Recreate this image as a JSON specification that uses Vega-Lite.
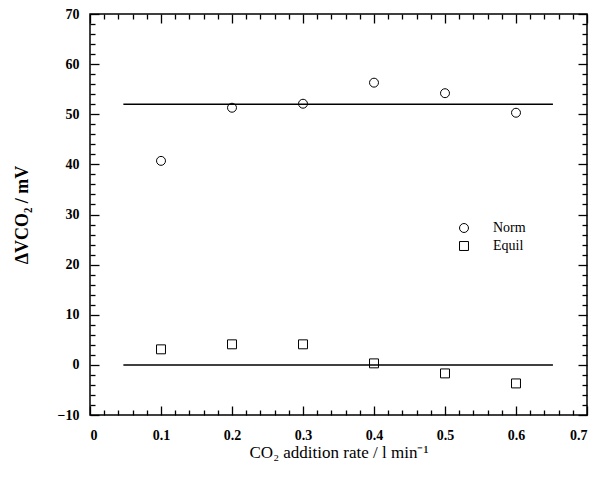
{
  "$schema": "https://vega.github.io/schema/vega-lite/v6.json",
  "width": 497,
  "height": 401,
  "padding": {"left": 13, "top": 7, "right": 5, "bottom": 5},
  "config": {
    "font": "Liberation Serif",
    "view": {"stroke": "black", "strokeWidth": 1.5},
    "axis": {
      "grid": false,
      "domain": false,
      "tickColor": "black",
      "tickWidth": 1.3,
      "labelColor": "black",
      "labelFont": "Liberation Serif",
      "labelFontSize": 14,
      "labelFontWeight": "bold",
      "titleFont": "Liberation Serif",
      "titleFontSize": 17,
      "titleFontWeight": "normal",
      "titleColor": "black"
    },
    "legend": {
      "labelFont": "Liberation Serif",
      "labelFontSize": 14,
      "labelColor": "black"
    }
  },
  "datasets": {
    "norm": [
      {"rate": 0.1, "dv": 40.7, "series": "Norm"},
      {"rate": 0.2, "dv": 51.3, "series": "Norm"},
      {"rate": 0.3, "dv": 52.1, "series": "Norm"},
      {"rate": 0.4, "dv": 56.3, "series": "Norm"},
      {"rate": 0.5, "dv": 54.2, "series": "Norm"},
      {"rate": 0.6, "dv": 50.3, "series": "Norm"}
    ],
    "equil": [
      {"rate": 0.1, "dv": 3.1, "series": "Equil"},
      {"rate": 0.2, "dv": 4.1, "series": "Equil"},
      {"rate": 0.3, "dv": 4.1, "series": "Equil"},
      {"rate": 0.4, "dv": 0.3, "series": "Equil"},
      {"rate": 0.5, "dv": -1.7, "series": "Equil"},
      {"rate": 0.6, "dv": -3.7, "series": "Equil"}
    ],
    "fitnorm": [
      {"rate": 0.047, "dv": 52.0},
      {"rate": 0.652, "dv": 52.0}
    ],
    "fitequil": [
      {"rate": 0.047, "dv": 0.0},
      {"rate": 0.652, "dv": 0.0}
    ]
  },
  "resolve": {"axis": {"x": "independent", "y": "independent"}},
  "layer": [
    {
      "data": {"name": "norm"},
      "mark": {"type": "point", "filled": false, "stroke": "black", "strokeWidth": 1, "size": 80, "opacity": 1},
      "encoding": {
        "x": {
          "field": "rate", "type": "quantitative",
          "scale": {"domain": [0, 0.7], "nice": false},
          "axis": {"orient": "bottom", "values": [0, 0.1, 0.2, 0.3, 0.4, 0.5, 0.6, 0.7], "format": ".1~f", "tickSize": -9, "labelPadding": 22, "title": "CO₂ addition rate / l min⁻¹", "titlePadding": 2}
        },
        "y": {
          "field": "dv", "type": "quantitative",
          "scale": {"domain": [-10, 70], "nice": false},
          "axis": {"orient": "left", "values": [-10, 0, 10, 20, 30, 40, 50, 60, 70], "tickSize": -9, "labelPadding": 20, "title": "ΔVCO₂ / mV", "titleFontWeight": "bold", "titleFontSize": 18, "titlePadding": 26}
        },
        "shape": {
          "field": "series", "type": "nominal",
          "scale": {"domain": ["Norm", "Equil"], "range": ["circle", "square"]},
          "legend": {"orient": "none", "legendX": 367, "legendY": 207, "title": null, "padding": 0, "symbolSize": 80, "symbolStrokeColor": "black", "symbolStrokeWidth": 1, "symbolFillColor": "transparent", "labelOffset": 22, "rowPadding": 4}
        }
      }
    },
    {
      "data": {"name": "equil"},
      "mark": {"type": "point", "filled": false, "stroke": "black", "strokeWidth": 1, "size": 80, "opacity": 1},
      "encoding": {
        "x": {
          "field": "rate", "type": "quantitative",
          "scale": {"domain": [0, 0.7], "nice": false},
          "axis": {"orient": "top", "values": [0, 0.1, 0.2, 0.3, 0.4, 0.5, 0.6, 0.7], "tickSize": -9, "labels": false, "title": null}
        },
        "y": {
          "field": "dv", "type": "quantitative",
          "scale": {"domain": [-10, 70], "nice": false},
          "axis": {"orient": "right", "values": [-10, 0, 10, 20, 30, 40, 50, 60, 70], "tickSize": -9, "labels": false, "title": null}
        },
        "shape": {"field": "series", "type": "nominal"}
      }
    },
    {
      "data": {"name": "fitnorm"},
      "mark": {"type": "line", "color": "black", "strokeWidth": 1.5},
      "encoding": {
        "x": {
          "field": "rate", "type": "quantitative",
          "scale": {"domain": [0, 0.7], "nice": false},
          "axis": {"orient": "bottom", "values": [0.02, 0.04, 0.06, 0.08, 0.12, 0.14, 0.16, 0.18, 0.22, 0.24, 0.26, 0.28, 0.32, 0.34, 0.36, 0.38, 0.42, 0.44, 0.46, 0.48, 0.52, 0.54, 0.56, 0.58, 0.62, 0.64, 0.66, 0.68], "tickSize": -5, "labels": false, "title": null}
        },
        "y": {
          "field": "dv", "type": "quantitative",
          "scale": {"domain": [-10, 70], "nice": false},
          "axis": {"orient": "left", "values": [-8, -6, -4, -2, 2, 4, 6, 8, 12, 14, 16, 18, 22, 24, 26, 28, 32, 34, 36, 38, 42, 44, 46, 48, 52, 54, 56, 58, 62, 64, 66, 68], "tickSize": -5, "labels": false, "title": null}
        }
      }
    },
    {
      "data": {"name": "fitequil"},
      "mark": {"type": "line", "color": "black", "strokeWidth": 1.5},
      "encoding": {
        "x": {
          "field": "rate", "type": "quantitative",
          "scale": {"domain": [0, 0.7], "nice": false},
          "axis": {"orient": "top", "values": [0.02, 0.04, 0.06, 0.08, 0.12, 0.14, 0.16, 0.18, 0.22, 0.24, 0.26, 0.28, 0.32, 0.34, 0.36, 0.38, 0.42, 0.44, 0.46, 0.48, 0.52, 0.54, 0.56, 0.58, 0.62, 0.64, 0.66, 0.68], "tickSize": -5, "labels": false, "title": null}
        },
        "y": {
          "field": "dv", "type": "quantitative",
          "scale": {"domain": [-10, 70], "nice": false},
          "axis": {"orient": "right", "values": [-8, -6, -4, -2, 2, 4, 6, 8, 12, 14, 16, 18, 22, 24, 26, 28, 32, 34, 36, 38, 42, 44, 46, 48, 52, 54, 56, 58, 62, 64, 66, 68], "tickSize": -5, "labels": false, "title": null}
        }
      }
    }
  ]
}
